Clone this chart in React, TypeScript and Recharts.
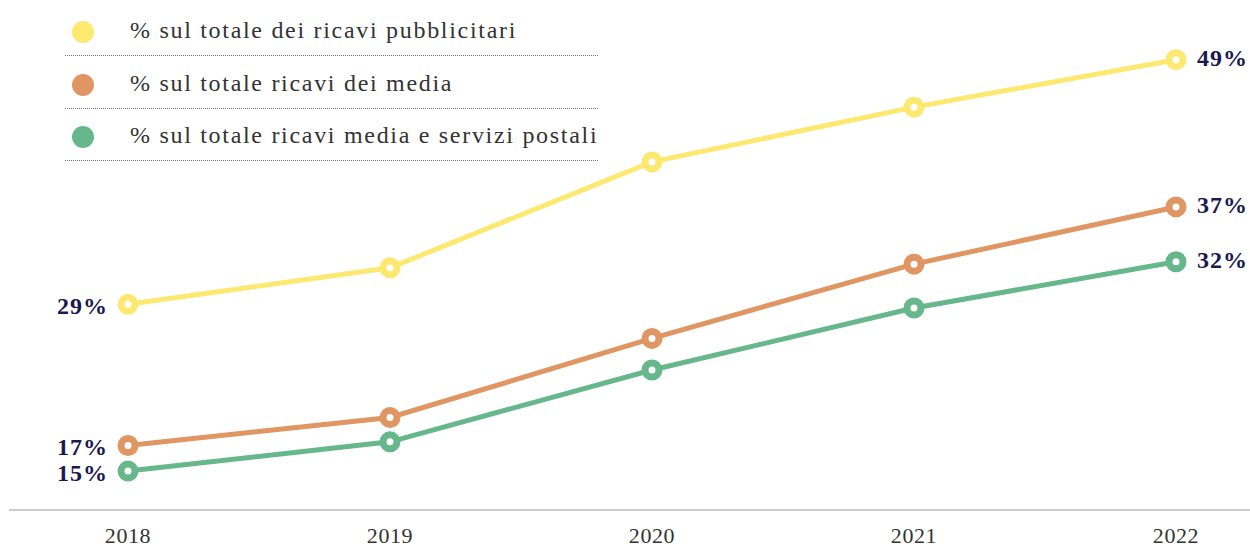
import React from "react"
import { LineChart, Line, XAxis, YAxis, Legend, LabelList } from "recharts"

const years = ["2018", "2019", "2020", "2021", "2022"]
const pubblicitari = [28.9, 31.9, 40.6, 45.1, 49.0]
const ricaviMedia = [17.3, 19.6, 26.1, 32.2, 36.9]
const mediaPostali = [15.2, 17.6, 23.5, 28.6, 32.4]

const seriesNames = [
  "% sul totale dei ricavi pubblicitari",
  "% sul totale ricavi dei media",
  "% sul totale ricavi media e servizi postali",
]

const colors = ["#FDE870", "#E09662", "#66B88C"]
const keys = ["pubblicitari", "ricaviMedia", "mediaPostali"]

const data = years.map((year, i) => ({
  year,
  pubblicitari: pubblicitari[i],
  ricaviMedia: ricaviMedia[i],
  mediaPostali: mediaPostali[i],
}))

const FONT = "'Liberation Serif', 'DejaVu Serif', serif"
const NAVY = "#1B1A4E"

const endLabel = (last: number) => (props: any) => {
  const { x, y, value, index } = props
  if (index !== 0 && index !== last) return null
  const left = index === 0
  return (
    <text
      x={left ? x - 20 : x + 21}
      y={left ? y + 10 : y + 6}
      textAnchor={left ? "end" : "start"}
      fontFamily={FONT}
      fontWeight="bold"
      fontSize={24}
      letterSpacing={1}
      fill={NAVY}
    >
      {Math.round(value)}%
    </text>
  )
}

const YearTick = (props: any) => {
  const { x, y, payload } = props
  return (
    <text
      x={x}
      y={y + 33}
      textAnchor="middle"
      fontFamily={FONT}
      fontSize={22}
      letterSpacing={0.6}
      fill="#333"
    >
      {payload.value}
    </text>
  )
}

const LegendBox = () => (
  <div style={{ position: "relative", width: 600, height: 170, fontFamily: FONT }}>
    {seriesNames.map((name, i) => (
      <div
        key={name}
        style={{
          position: "absolute",
          left: 65,
          top: 6 + i * 52.5,
          width: 533,
          height: 49,
          borderBottom: "1px dotted #777",
        }}
      >
        <span
          style={{
            position: "absolute",
            left: 7,
            top: 15,
            width: 22,
            height: 22,
            borderRadius: "50%",
            background: colors[i],
          }}
        />
        <span
          style={{
            position: "absolute",
            left: 65,
            top: 10,
            fontSize: 24,
            letterSpacing: 1.7,
            lineHeight: "28px",
            color: "#333",
            whiteSpace: "nowrap",
          }}
        >
          {name}
        </span>
      </div>
    ))}
  </div>
)

export default function App() {
  return (
    <div style={{ position: "absolute", left: 0, top: 0 }}>
      <LineChart
        width={1250}
        height={548}
        data={data}
        margin={{ top: 11, right: 0, left: 9, bottom: 0 }}
      >
        <XAxis
          dataKey="year"
          height={38}
          padding={{ left: 119, right: 74 }}
          axisLine={{ stroke: "#9a9a9a", strokeWidth: 1 }}
          tickLine={false}
          tickSize={0}
          tickMargin={0}
          tick={<YearTick />}
          interval={0}
        />
        <YAxis hide domain={[12, 53]} allowDataOverflow />
        <Legend
          layout="horizontal"
          verticalAlign="middle"
          align="center"
          wrapperStyle={{ top: 0, left: 0, width: 600 }}
          content={() => <LegendBox />}
        />
        {keys.map((k, i) => (
          <Line
            key={k}
            dataKey={k}
            name={seriesNames[i]}
            type="linear"
            stroke={colors[i]}
            strokeWidth={5}
            dot={{ r: 7, strokeWidth: 7, fill: "#fff", stroke: colors[i] }}
            activeDot={false}
            isAnimationActive={false}
          >
            <LabelList dataKey={k} content={endLabel(years.length - 1)} />
          </Line>
        ))}
      </LineChart>
    </div>
  )
}
